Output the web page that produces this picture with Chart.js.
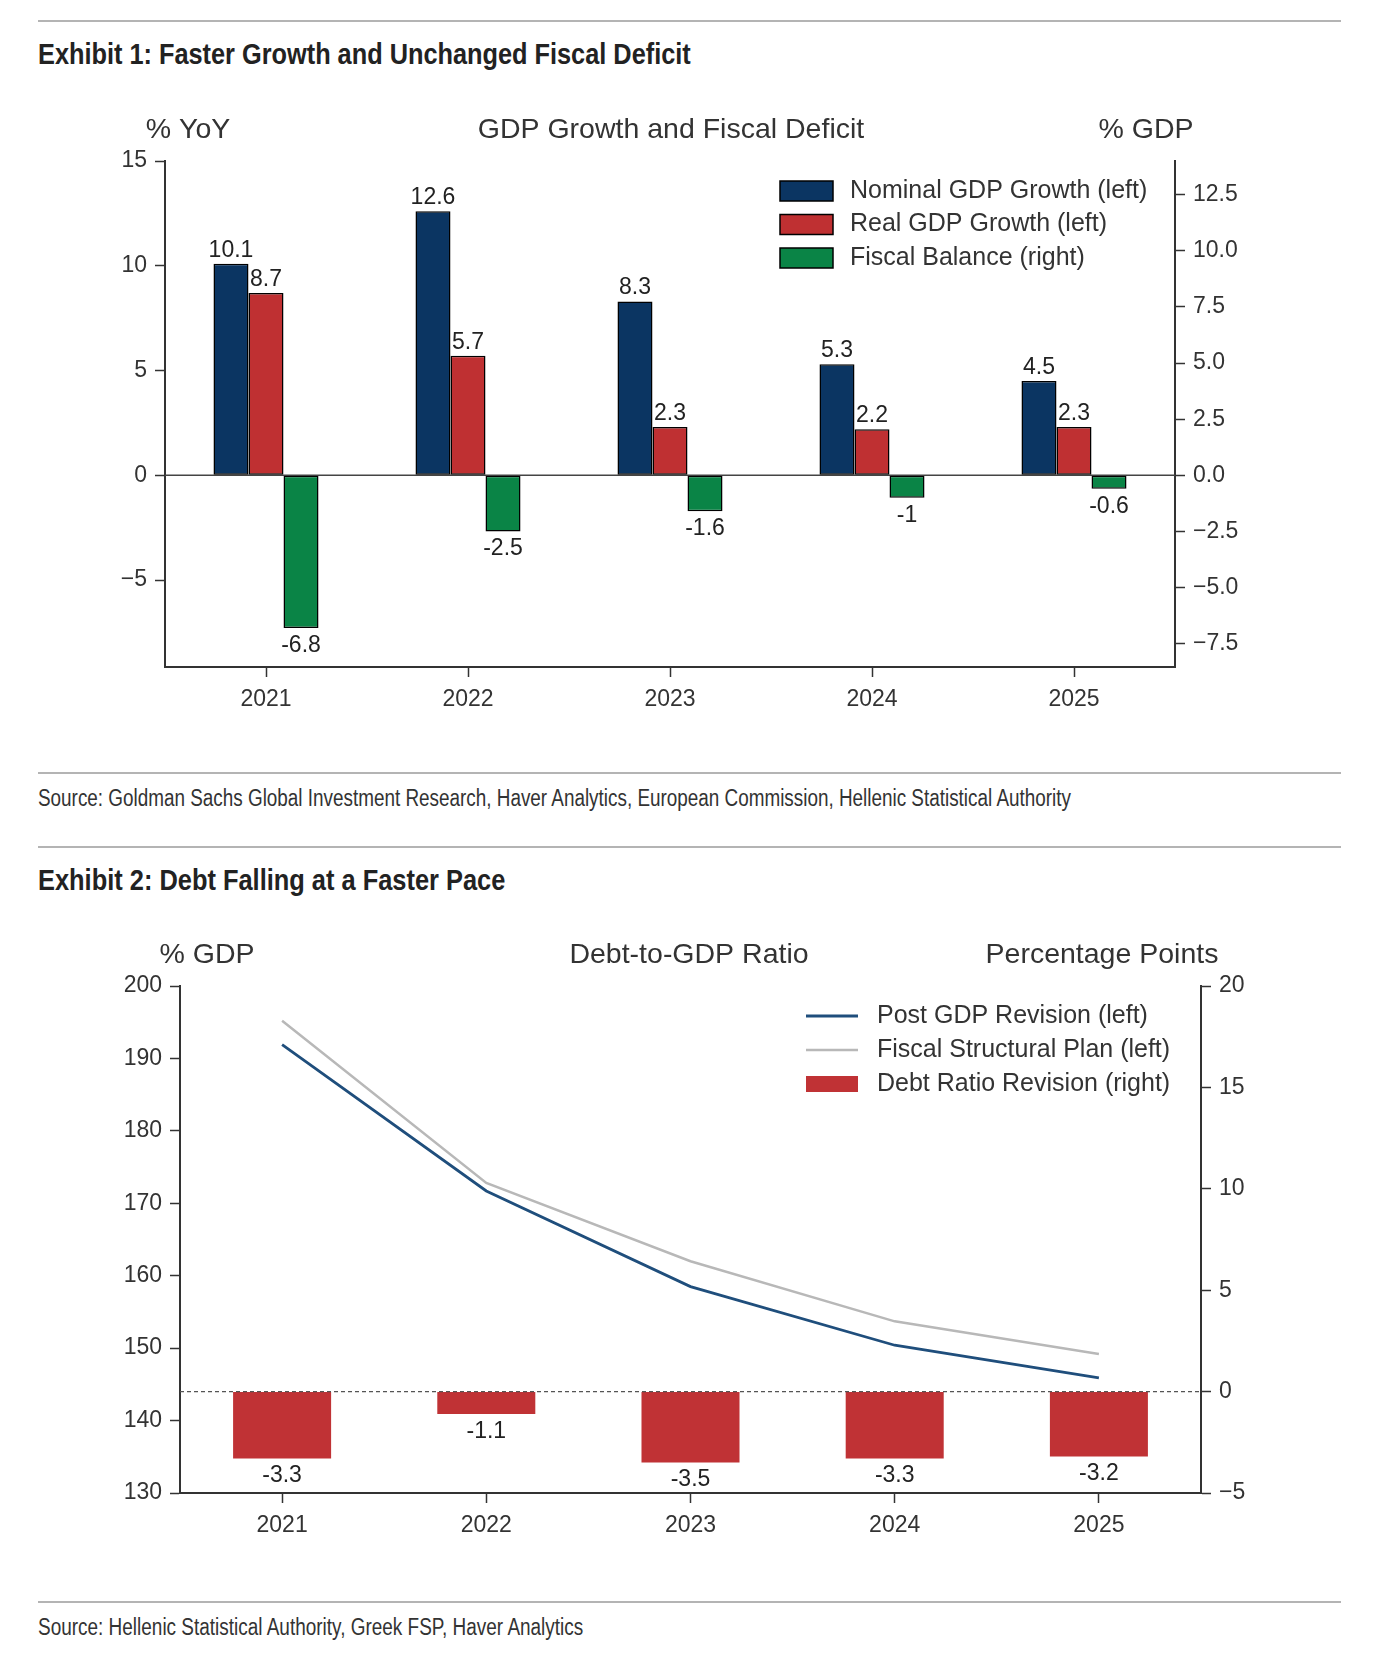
<!DOCTYPE html>
<html>
<head>
<meta charset="utf-8">
<script src="https://cdn.jsdelivr.net/npm/chart.js@4"></script>
<style>
  html, body { margin: 0; padding: 0; background: #fff; }
  #page { position: relative; width: 1378px; height: 1659px; overflow: hidden; }
  .rule { position: absolute; left: 38px; width: 1303px; height: 2px; background: #b4b4b4; }
  .title, .source {
    position: absolute; left: 38px; white-space: nowrap;
    font-family: 'Liberation Sans', Arial, sans-serif;
    transform-origin: 0 50%;
  }
  .title { font-size: 29px; line-height: 29px; font-weight: bold; color: #222; }
  .source { font-size: 23px; line-height: 23px; color: #333; }
  canvas { position: absolute; left: 0; }
</style>
</head>
<body>
<div id="page">
  <div class="rule" style="top:20px"></div>
  <div class="title" data-fit="653" style="top:40px">Exhibit 1: Faster Growth and Unchanged Fiscal Deficit</div>
  <div style="position:absolute;left:0;top:100px;width:1378px;height:620px">
    <canvas id="growthChart"></canvas>
  </div>
  <div class="rule" style="top:772px"></div>
  <div class="source" data-fit="1033" style="top:787px">Source: Goldman Sachs Global Investment Research, Haver Analytics, European Commission, Hellenic Statistical Authority</div>
  <div class="rule" style="top:846px"></div>
  <div class="title" data-fit="467" style="top:866px">Exhibit 2: Debt Falling at a Faster Pace</div>
  <div style="position:absolute;left:0;top:900px;width:1378px;height:650px">
    <canvas id="debtChart"></canvas>
  </div>
  <div class="rule" style="top:1601px"></div>
  <div class="source" data-fit="545" style="top:1616px">Source: Hellenic Statistical Authority, Greek FSP, Haver Analytics</div>
</div>

<script>
// --- data ---
const years = ['2021', '2022', '2023', '2024', '2025'];

const nominalGdpGrowth = [10.1, 12.6, 8.3, 5.3, 4.5];
const realGdpGrowth = [8.7, 5.7, 2.3, 2.2, 2.3];
const fiscalBalance = [-6.8, -2.5, -1.6, -1, -0.6];
const growthTicks = [-5, 0, 5, 10, 15];
const balanceTicks = [-7.5, -5, -2.5, 0, 2.5, 5, 7.5, 10, 12.5];

const debtPostRevision = [191.9, 171.7, 158.5, 150.4, 145.9];
const debtFiscalPlan = [195.2, 172.8, 162.0, 153.7, 149.2];
const debtRevision = [-3.3, -1.1, -3.5, -3.3, -3.2];
const debtTicks = [130, 140, 150, 160, 170, 180, 190, 200];
const revisionTicks = [-5, 0, 5, 10, 15, 20];

const FONT = "'Liberation Sans', Arial, sans-serif";
const INK = '#333';

Chart.defaults.font.family = FONT;
Chart.defaults.color = INK;
Chart.defaults.animation = false;

const minus = (s) => String(s).replace('-', '\u2212');

// the page headings use a condensed face; squeeze Liberation Sans to the same width
document.querySelectorAll('[data-fit]').forEach(el => {
  const target = Number(el.dataset.fit);
  el.style.transform = `scaleX(${target / el.offsetWidth})`;
});

// small plugins
const headerText = {
  id: 'headerText',
  afterDraw(chart, args, opts) {
    const { ctx } = chart;
    ctx.save();
    ctx.font = `28.5px ${FONT}`;
    ctx.fillStyle = INK;
    ctx.textAlign = 'center';
    ctx.textBaseline = 'middle';
    (opts.items || []).forEach(it => ctx.fillText(it.text, it.x, it.y));
    ctx.restore();
  }
};

const zeroLine = {
  id: 'zeroLine',
  beforeDatasetsDraw(chart, args, opts) {
    if (opts.dash) return;
    this.draw(chart, opts);
  },
  afterDatasetsDraw(chart, args, opts) {
    if (!opts.dash) return;
    this.draw(chart, opts);
  },
  draw(chart, opts) {
    const { ctx, chartArea } = chart;
    const y = chart.scales[opts.axis].getPixelForValue(0);
    ctx.save();
    ctx.strokeStyle = opts.color || '#444';
    ctx.lineWidth = opts.width || 1.5;
    ctx.setLineDash(opts.dash || []);
    ctx.beginPath();
    ctx.moveTo(chartArea.left, y);
    ctx.lineTo(chartArea.right, y);
    ctx.stroke();
    ctx.restore();
  }
};

const barLabels = {
  id: 'barLabels',
  afterDatasetsDraw(chart) {
    const { ctx } = chart;
    ctx.save();
    ctx.font = `23px ${FONT}`;
    ctx.fillStyle = '#222';
    ctx.textAlign = 'center';
    chart.data.datasets.forEach((ds, di) => {
      if ((ds.type || chart.config.type) !== 'bar') return;
      chart.getDatasetMeta(di).data.forEach((bar, i) => {
        const v = ds.data[i];
        if (v >= 0) {
          ctx.textBaseline = 'alphabetic';
          ctx.fillText(String(v), bar.x, bar.y - 7);
        } else {
          ctx.textBaseline = 'top';
          ctx.fillText(String(v), bar.x, bar.y + 6);
        }
      });
    });
    ctx.restore();
  }
};

const boxLegend = {
  id: 'boxLegend',
  afterDraw(chart, args, opts) {
    const { ctx } = chart;
    ctx.save();
    ctx.font = `25px ${FONT}`;
    ctx.textBaseline = 'middle';
    ctx.textAlign = 'left';
    chart.data.datasets.forEach((ds, i) => {
      const y = opts.y + i * opts.gap;
      const type = ds.type || chart.config.type;
      if (type === 'line') {
        ctx.strokeStyle = ds.borderColor;
        ctx.lineWidth = ds.borderWidth;
        ctx.beginPath();
        ctx.moveTo(opts.x, y);
        ctx.lineTo(opts.x + opts.boxW, y);
        ctx.stroke();
      } else {
        ctx.fillStyle = ds.backgroundColor;
        ctx.fillRect(opts.x, y - opts.boxH / 2, opts.boxW, opts.boxH);
        if (ds.borderWidth) {
          ctx.strokeStyle = ds.borderColor;
          ctx.lineWidth = ds.borderWidth;
          ctx.strokeRect(opts.x, y - opts.boxH / 2, opts.boxW, opts.boxH);
        }
      }
      ctx.fillStyle = INK;
      ctx.fillText(ds.label, opts.textX, y);
    });
    ctx.restore();
  }
};

const Charts = {
  yAxis(position, min, max, ticks, width, fmt) {
    return {
      type: 'linear',
      position,
      min,
      max,
      afterBuildTicks: (s) => { s.ticks = ticks.map(value => ({ value })); },
      afterFit: (s) => { s.width = width; },
      grid: { drawOnChartArea: false, tickLength: 10, tickColor: INK, tickWidth: 1.5 },
      border: { color: INK, width: 2 },
      ticks: { color: INK, font: { size: 23 }, padding: 8, callback: fmt }
    };
  },

  xAxis(height) {
    return {
      type: 'category',
      offset: true,
      afterFit: (s) => { s.height = height; },
      grid: { offset: false, drawOnChartArea: false, tickLength: 10, tickColor: INK, tickWidth: 1.5 },
      border: { color: INK, width: 2 },
      ticks: { color: INK, font: { size: 23 }, padding: 9, maxRotation: 0 }
    };
  },

  createGrowthChart(ctx) {
    const barStyle = { borderColor: '#000', borderWidth: 1.5, borderSkipped: false,
      categoryPercentage: 0.52, barPercentage: 1.0 };
    return new Chart(ctx, {
      type: 'bar',
      data: {
        labels: years,
        datasets: [
          { label: 'Nominal GDP Growth (left)', data: nominalGdpGrowth, backgroundColor: '#0b3562', yAxisID: 'y', ...barStyle },
          { label: 'Real GDP Growth (left)', data: realGdpGrowth, backgroundColor: '#bf3032', yAxisID: 'y', ...barStyle },
          { label: 'Fiscal Balance (right)', data: fiscalBalance, backgroundColor: '#0a8446', yAxisID: 'y2', ...barStyle }
        ]
      },
      options: {
        responsive: true,
        maintainAspectRatio: false,
        layout: { padding: { top: 61, left: 0, right: 0, bottom: 0 } },
        scales: {
          x: this.xAxis(53),
          y: this.yAxis('left', -9.15, 15, growthTicks, 165, v => minus(v)),
          y2: this.yAxis('right', -8.54, 14.0, balanceTicks, 203, v => minus(v.toFixed(1)))
        },
        plugins: {
          legend: { display: false },
          tooltip: { enabled: false },
          headerText: { items: [
            { text: '% YoY', x: 188, y: 30 },
            { text: 'GDP Growth and Fiscal Deficit', x: 671, y: 30 },
            { text: '% GDP', x: 1146, y: 30 }
          ] },
          zeroLine: { axis: 'y', color: '#444', width: 1.5 },
          boxLegend: { x: 780, y: 91, gap: 33.5, boxW: 53, boxH: 20, textX: 850 }
        }
      },
      plugins: [headerText, zeroLine, barLabels, boxLegend]
    });
  },

  createDebtChart(ctx) {
    return new Chart(ctx, {
      type: 'bar',
      data: {
        labels: years,
        datasets: [
          { type: 'line', label: 'Post GDP Revision (left)', data: debtPostRevision, borderColor: '#1f4e7c',
            borderWidth: 2.8, pointRadius: 0, tension: 0, yAxisID: 'y', order: 1 },
          { type: 'line', label: 'Fiscal Structural Plan (left)', data: debtFiscalPlan, borderColor: '#b8b8b8',
            borderWidth: 2.5, pointRadius: 0, tension: 0, yAxisID: 'y', order: 2 },
          { type: 'bar', label: 'Debt Ratio Revision (right)', data: debtRevision, backgroundColor: '#c03235',
            borderWidth: 0, categoryPercentage: 0.48, barPercentage: 1.0, yAxisID: 'y2', order: 3 }
        ]
      },
      options: {
        responsive: true,
        maintainAspectRatio: false,
        layout: { padding: { top: 86, left: 0, right: 0, bottom: 0 } },
        scales: {
          x: this.xAxis(57),
          y: this.yAxis('left', 130, 200, debtTicks, 180, v => minus(v)),
          y2: this.yAxis('right', -5, 20, revisionTicks, 177, v => minus(v))
        },
        plugins: {
          legend: { display: false },
          tooltip: { enabled: false },
          headerText: { items: [
            { text: '% GDP', x: 207, y: 55 },
            { text: 'Debt-to-GDP Ratio', x: 689, y: 55 },
            { text: 'Percentage Points', x: 1102, y: 55 }
          ] },
          zeroLine: { axis: 'y2', color: '#555', width: 1.2, dash: [4, 3] },
          boxLegend: { x: 806, y: 116, gap: 34, boxW: 52, boxH: 16, textX: 877 }
        }
      },
      plugins: [headerText, zeroLine, barLabels, boxLegend]
    });
  }
};

Charts.createGrowthChart(document.getElementById('growthChart'));
Charts.createDebtChart(document.getElementById('debtChart'));
</script>
</body>
</html>
